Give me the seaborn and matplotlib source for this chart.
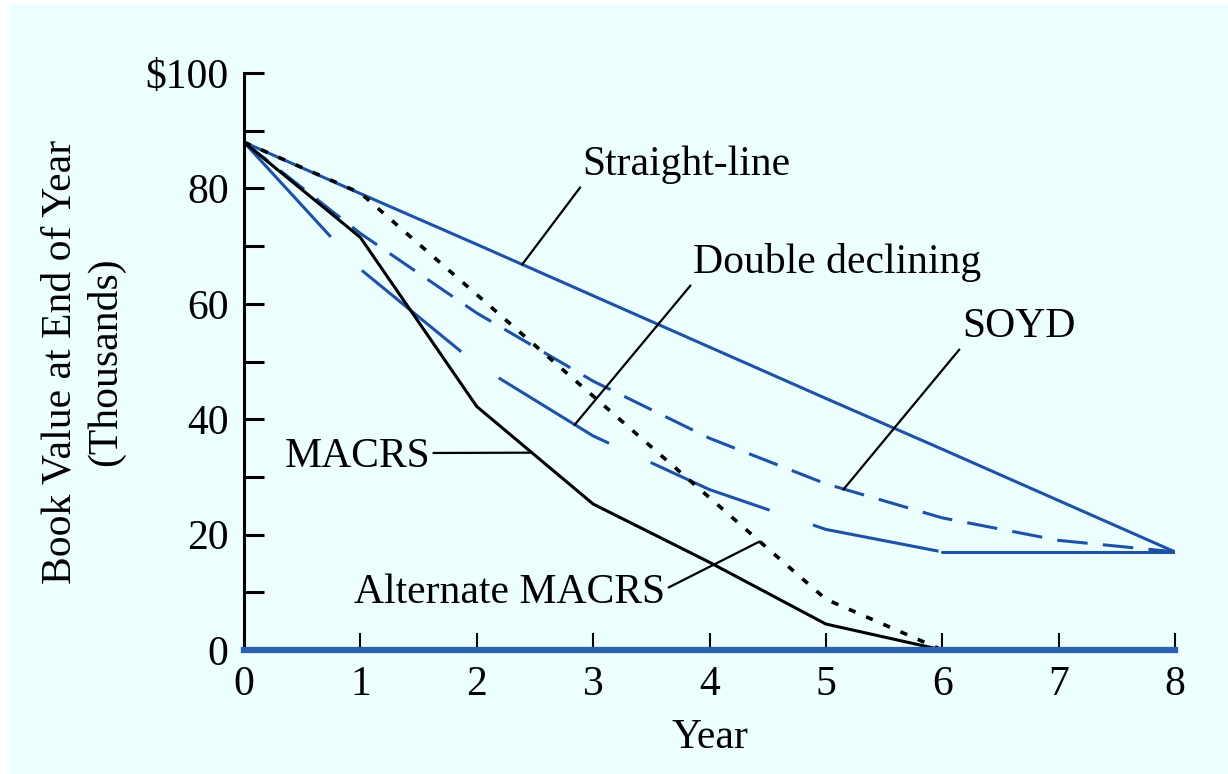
import numpy as np
import pandas as pd
import matplotlib
matplotlib.use("Agg")
import matplotlib.pyplot as plt
import seaborn as sns
from matplotlib.patches import Rectangle

# Book values (thousands of $)
years = [0, 1, 2, 3, 4, 5, 6, 7, 8]
straight_line = [88, 79.1, 70.3, 61.4, 52.5, 43.6, 34.8, 25.9, 17]
soyd = [88, 72.2, 58.4, 46.6, 36.7, 28.8, 22.9, 19.0, 17]
double_declining = [88, 66, 49.5, 37.1, 27.8, 20.9, 17, 17, 17]

macrs_years = [0, 1, 2, 3, 4, 5, 6]
macrs = [88, 71.5, 42.2, 25.3, 15.2, 4.5, 0]
alt_macrs = [88, 79.2, 61.6, 44, 26.4, 8.8, 0]

x_ticks = [0, 1, 2, 3, 4, 5, 6, 7, 8]
y_ticks = [0, 20, 40, 60, 80, 100]
y_tick_labels = ["0", "20", "40", "60", "80", "$100"]

bg = "#ecfefe"
blue = "#1d52a6"
axis_blue = "#2b5fb0"
fs = 30

sns.set_style("white")
plt.rcParams["font.family"] = ["Liberation Serif", "DejaVu Serif"]
plt.rcParams["text.color"] = "black"
plt.rcParams["axes.labelcolor"] = "black"
plt.rcParams["xtick.color"] = "black"
plt.rcParams["ytick.color"] = "black"

fig = plt.figure(figsize=(12.28, 7.74), dpi=100, facecolor="white")
# pale background with thin white margin top/left
fig.add_artist(Rectangle((10 / 1228, 0), 1, 1 - 5 / 774, transform=fig.transFigure,
                         facecolor=bg, edgecolor="none", zorder=-10))
ax = fig.add_axes([244 / 1228, 1 - 650 / 774, (1175 - 244) / 1228, (650 - 73) / 774])
ax.set_facecolor(bg)

df = pd.DataFrame({"year": years, "straight": straight_line, "soyd": soyd,
                   "ddb": double_declining})
dm = pd.DataFrame({"year": macrs_years, "macrs": macrs, "alt": alt_macrs})
ddb_decl = df[df["year"] <= 6]
ddb_flat = df[df["year"] >= 6]

sns.lineplot(data=df, x="year", y="straight", ax=ax, color=blue, lw=2.2)
sns.lineplot(data=df, x="year", y="soyd", ax=ax, color=blue, lw=2.2,
             linestyle=(0, (10, 5)))
sns.lineplot(data=ddb_decl, x="year", y="ddb", ax=ax, color=blue, lw=2.2,
             linestyle=(0, (42, 15)))
sns.lineplot(data=ddb_flat, x="year", y="ddb", ax=ax, color=blue, lw=2.2)
sns.lineplot(data=dm, x="year", y="macrs", ax=ax, color="black", lw=2.2)
sns.lineplot(data=dm, x="year", y="alt", ax=ax, color="black", lw=2.6,
             linestyle=(0, (2, 3.2)))

ax.set_xlim(0, 8)
ax.set_ylim(0, 100)

# spines
for s in ["top", "right"]:
    ax.spines[s].set_visible(False)
ax.spines["left"].set_color("black")
ax.spines["left"].set_linewidth(2.2)
ax.spines["bottom"].set_color(axis_blue)
ax.spines["bottom"].set_linewidth(4.5)

ax.set_xticks(x_ticks)
ax.set_xticklabels([str(t) for t in x_ticks])
ax.set_yticks(y_ticks)
ax.set_yticklabels(y_tick_labels)
ax.set_yticks([10, 30, 50, 70, 90], minor=True)
ax.tick_params(axis="y", which="both", left=True, direction="in", length=14.5,
               width=2.2, color="black", pad=11, labelsize=fs)
ax.tick_params(axis="x", bottom=True, direction="in", length=12, width=1.5,
               color="black", pad=11, labelsize=fs)

ax.set_xlabel("Year", fontsize=fs)
ax.xaxis.set_label_coords(0.5, -0.118)
ax.set_ylabel("Book Value at End of Year\n(Thousands)", fontsize=fs)
ax.yaxis.set_label_coords(-0.128, 0.5)

lead = dict(arrowstyle="-", color="black", lw=1.6, shrinkA=0, shrinkB=0)
ax.annotate("Straight-line", xy=(2.39, 66.8), xytext=(2.91, 82.3),
            fontsize=fs, ha="left", va="baseline",
            arrowprops=dict(lead, relpos=(0, 0)))
ax.annotate("Double declining", xy=(2.84, 39.0), xytext=(3.86, 65.3),
            fontsize=fs, ha="left", va="baseline",
            arrowprops=dict(lead, relpos=(0, 0)))
ax.annotate("SOYD", xy=(5.15, 27.8), xytext=(6.17, 54.2),
            fontsize=fs, ha="left", va="baseline",
            arrowprops=dict(lead, relpos=(0, 0)))
ax.annotate("MACRS", xy=(2.47, 34.2), xytext=(1.6, 31.7),
            fontsize=fs, ha="right", va="baseline",
            arrowprops=dict(lead, relpos=(1, 0.6)))
ax.annotate("Alternate MACRS", xy=(4.43, 18.8), xytext=(3.62, 8.1),
            fontsize=fs, ha="right", va="baseline",
            arrowprops=dict(lead, relpos=(1, 0.6)))

fig.savefig("out.png", dpi=100, facecolor=fig.get_facecolor())
